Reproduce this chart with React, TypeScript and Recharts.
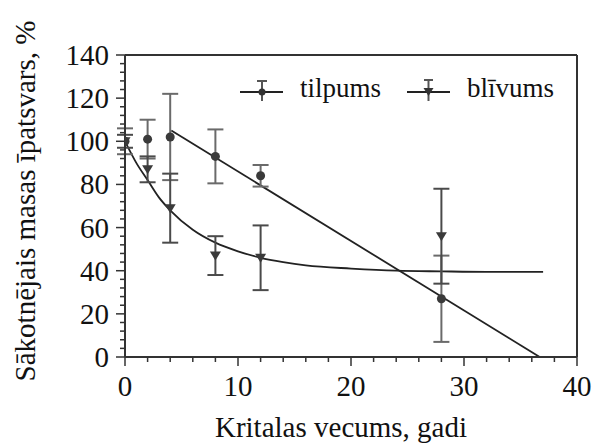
import React from 'react';
import { ComposedChart, Scatter, Line, XAxis, YAxis, ErrorBar, ReferenceLine, Label } from 'recharts';

// tick values
const xTicks = [0, 2, 4, 6, 8, 10, 12, 14, 16, 18, 20, 22, 24, 26, 28, 30, 32, 34, 36, 38, 40];
const yTicks = [0, 4, 8, 12, 16, 20, 24, 28, 32, 36, 40, 44, 48, 52, 56, 60, 64, 68, 72, 76, 80, 84, 88, 92, 96, 100, 104, 108, 112, 116, 120, 124, 128, 132, 136, 140];

// measured series: tilpums (circles)
const ageT = [0, 2, 4, 8, 12, 28];
const tilpumsVal = [100, 101, 102, 93, 84, 27];
const tilpumsErr = [6, 9, 20, 12.5, 5, 20];

// measured series: blīvums (down triangles)
const ageB = [0, 2, 4, 8, 12, 28];
const blivumsVal = [100, 87, 69, 47, 46, 56];
const blivumsErr = [3, 6, 16, 9, 15, 22];

// fitted curves
const fitTAge = [4.1, 36.7];
const fitTVal = [105, 0];
const fitBAge = [0, 1, 2, 3, 4, 6, 8, 10, 12, 14, 16, 20, 24, 28, 32, 37];
const fitBVal = [100, 90, 82, 74, 68, 59, 53, 49, 46, 44, 42.5, 41, 40, 39.7, 39.5, 39.5];

const tilpumsData = ageT.map((x, i) => ({ x, y: tilpumsVal[i], err: tilpumsErr[i] }));
const blivumsData = ageB.map((x, i) => ({ x, y: blivumsVal[i], err: blivumsErr[i] }));
const fitTData = fitTAge.map((x, i) => ({ x, y: fitTVal[i] }));
const fitBData = fitBAge.map((x, i) => ({ x, y: fitBVal[i] }));

const SERIF = 'Times New Roman';
const AXIS = '#333';
const TXT = '#111';
const CSS = `#root text, #root tspan, .serif-text { font-family: "Liberation Serif", "Times New Roman", Tinos !important; }`;

const T = (props: any) => {
  const { children, ...rest } = props;
  return (
    <text {...rest} className="serif-text" fontFamily={SERIF} style={{ fontFamily: SERIF }}>
      {children}
    </text>
  );
};

const XTick = (props: any) => {
  const { x, y, payload } = props;
  const major = payload.value % 10 === 0;
  return (
    <g>
      <line x1={x} y1={y} x2={x} y2={y + (major ? 9 : 5)} stroke={AXIS} strokeWidth={1.5} />
      {major && (
        <T x={x} y={y + 39} textAnchor="middle" fontSize={29} fill={TXT}>
          {String(payload.value)}
        </T>
      )}
    </g>
  );
};

const YTick = (props: any) => {
  const { x, y, payload } = props;
  const major = payload.value % 20 === 0;
  return (
    <g>
      <line x1={x} y1={y} x2={x - (major ? 9 : 5)} y2={y} stroke={AXIS} strokeWidth={1.5} />
      {major && (
        <T x={x - 16} y={y + 10} textAnchor="end" fontSize={29} fill={TXT}>
          {String(payload.value)}
        </T>
      )}
    </g>
  );
};

const CircleDot = (props: any) => {
  const { cx, cy } = props;
  return <circle cx={cx} cy={cy} r={4.5} fill="#3a3a3a" />;
};

const TriDown = (props: any) => {
  const { cx, cy } = props;
  return <path d={`M${cx - 5.5},${cy - 4} L${cx + 5.5},${cy - 4} L${cx},${cy + 5} Z`} fill="#3a3a3a" />;
};

export default function App() {
  return (
    <div style={{ position: 'absolute', left: 0, top: 0, width: 594, height: 445, background: '#fff' }}>
      <style>{CSS}</style>
      <ComposedChart width={594} height={445} margin={{ top: 55, right: 17, bottom: 0, left: 0 }}>
        <XAxis
          dataKey="x"
          type="number"
          domain={[0, 40]}
          ticks={xTicks}
          interval={0}
          height={88}
          tickSize={0}
          tickMargin={0}
          tickLine={false}
          tick={<XTick />}
          axisLine={{ stroke: AXIS, strokeWidth: 2 }}
          allowDataOverflow
        >
          <Label
            content={() => (
              <T x={341} y={437} textAnchor="middle" fontSize={29} fill={TXT}>
                Kritalas vecums, gadi
              </T>
            )}
          />
        </XAxis>
        <YAxis
          dataKey="y"
          type="number"
          domain={[0, 140]}
          ticks={yTicks}
          interval={0}
          width={125}
          tickSize={0}
          tickMargin={0}
          tickLine={false}
          tick={<YTick />}
          axisLine={{ stroke: AXIS, strokeWidth: 2 }}
          allowDataOverflow
        >
          <Label
            content={() => (
              <T
                transform="translate(25,201) rotate(-90)"
                x={0}
                y={0}
                textAnchor="middle"
                dominantBaseline="central"
                fontSize={29}
                fill={TXT}
              >
                Sākotnējais masas īpatsvars, %
              </T>
            )}
          />
        </YAxis>
        <ReferenceLine y={140} stroke={AXIS} strokeWidth={2} />
        <ReferenceLine x={40} stroke={AXIS} strokeWidth={2} />
        <Line data={fitTData} dataKey="y" type="linear" dot={false} stroke="#222" strokeWidth={1.8} isAnimationActive={false} />
        <Line data={fitBData} dataKey="y" type="monotone" dot={false} stroke="#222" strokeWidth={1.8} isAnimationActive={false} />
        <Scatter data={tilpumsData} dataKey="y" shape={<CircleDot />} isAnimationActive={false}>
          <ErrorBar dataKey="err" direction="y" width={8} stroke="#6a6a6a" strokeWidth={2} isAnimationActive={false} />
        </Scatter>
        <Scatter data={blivumsData} dataKey="y" shape={<TriDown />} isAnimationActive={false}>
          <ErrorBar dataKey="err" direction="y" width={8} stroke="#4a4a4a" strokeWidth={2} isAnimationActive={false} />
        </Scatter>
      </ComposedChart>
      <svg width={340} height={40} style={{ position: 'absolute', left: 230, top: 72 }}>
        <g transform="translate(-230,-72)">
          <line x1={240} y1={92} x2={283} y2={92} stroke="#222" strokeWidth={2} />
          <line x1={262} y1={81} x2={262} y2={101} stroke="#555" strokeWidth={2} />
          <line x1={257} y1={81} x2={267} y2={81} stroke="#555" strokeWidth={2} />
          <circle cx={262} cy={92} r={3.5} fill="#333" />
          <T x={300} y={97} fontSize={27} fill={TXT}>tilpums</T>
          <line x1={407} y1={92} x2={450} y2={92} stroke="#222" strokeWidth={2} />
          <line x1={428.5} y1={80} x2={428.5} y2={101} stroke="#555" strokeWidth={2} />
          <line x1={424} y1={80} x2={433} y2={80} stroke="#555" strokeWidth={2} />
          <path d="M423.5,88 L433.5,88 L428.5,96 Z" fill="#333" />
          <T x={467} y={97} fontSize={27} fill={TXT}>blīvums</T>
        </g>
      </svg>
    </div>
  );
}
